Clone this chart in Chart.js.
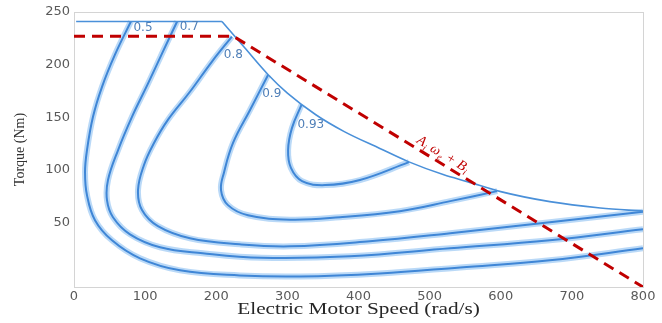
<!DOCTYPE html>
<html>
<head>
<meta charset="utf-8">
<script src="https://cdn.jsdelivr.net/npm/chart.js@4.4.1/dist/chart.umd.min.js"></script>
<style>
    html, body { margin: 0; padding: 0; background: #fff; }
    #wrap { width: 662px; height: 323px; }
</style>
</head>
<body>
<div id="wrap"><canvas id="grafico-eficiencia" width="662" height="323"></canvas></div>
<script>
// Axis ticks
const xTicks = [0, 100, 200, 300, 400, 500, 600, 700, 800];
const yTicks = [50, 100, 150, 200, 250];
const yMin = -11;
const xTitle = 'Electric Motor Speed (rad/s)';
const yTitle = 'Torque (Nm)';

// Maximum torque envelope
const envelopeFlat = [{x: 3, y: 241}, {x: 208, y: 241}];
const envelopeCurve = [
    {x: 208, y: 241}, {x: 240, y: 216}, {x: 273, y: 190.5}, {x: 300, y: 173}, {x: 340, y: 152.5},
    {x: 380, y: 136.5}, {x: 430, y: 120.5}, {x: 470, y: 108}, {x: 520, y: 95.5}, {x: 553, y: 89},
    {x: 600, y: 79.5}, {x: 669, y: 70}, {x: 740, y: 64}, {x: 800, y: 61}
];

// Efficiency contours
const eff50 = [
    {x: 80, y: 241}, {x: 57.6, y: 209.5}, {x: 39.4, y: 179}, {x: 26.7, y: 150.5}, {x: 18.3, y: 119},
    {x: 15.5, y: 98}, {x: 18.3, y: 76}, {x: 29.5, y: 52.4}, {x: 53.4, y: 33.3}, {x: 92.8, y: 16.2},
    {x: 149, y: 4.8}, {x: 233, y: 0}, {x: 318, y: -1}, {x: 430, y: 1.9}, {x: 543, y: 7.6},
    {x: 669, y: 14.3}, {x: 800, y: 25.7}
];
const eff70 = [
    {x: 145, y: 241}, {x: 125, y: 212.4}, {x: 104, y: 182}, {x: 81.5, y: 150.5}, {x: 62, y: 119},
    {x: 47.8, y: 90.5}, {x: 46.4, y: 71.4}, {x: 54.8, y: 55.2}, {x: 78.7, y: 39}, {x: 121, y: 26.7},
    {x: 181, y: 21}, {x: 264, y: 16.7}, {x: 388, y: 18.1}, {x: 529, y: 25.7}, {x: 669, y: 33.3},
    {x: 800, y: 43.8}
];
const eff80 = [
    {x: 222, y: 226.7}, {x: 194, y: 203}, {x: 163, y: 174.3}, {x: 132, y: 147.6}, {x: 112.5, y: 125.7},
    {x: 98.4, y: 104.8}, {x: 90, y: 81}, {x: 95.6, y: 62}, {x: 118, y: 46.7}, {x: 163, y: 35.2},
    {x: 233, y: 29.5}, {x: 304, y: 27.6}, {x: 416, y: 32.4}, {x: 529, y: 40}, {x: 669, y: 50.5},
    {x: 800, y: 60.5}
];
const eff90 = [
    {x: 273, y: 190.5}, {x: 247.5, y: 157}, {x: 223.6, y: 125.7}, {x: 211, y: 98}, {x: 206.7, y: 81},
    {x: 216.5, y: 66.7}, {x: 244.6, y: 57.1}, {x: 304, y: 52.9}, {x: 374, y: 55.2}, {x: 458, y: 61},
    {x: 529, y: 70.5}, {x: 595, y: 80}
];
const eff93 = [
    {x: 320, y: 162}, {x: 306.5, y: 140}, {x: 301, y: 119}, {x: 305, y: 102}, {x: 320.6, y: 89.5},
    {x: 353, y: 85.7}, {x: 402, y: 90.5}, {x: 471, y: 107.5}
];

// Operating line A_i w_e + B_i
const redLine = [{x: 0, y: 227}, {x: 224, y: 227}, {x: 800, y: -11}];

// Contour labels and where they sit (data units)
const effLabels = ['0.5', '0.7', '0.8', '0.9', '0.93'];
const effLabelAt = [[97, 235], [162, 236], [224, 209], [278, 172], [333, 143]];

function contour(data) {
    return [{
        data: data, showLine: true, pointRadius: 0, tension: 0.4,
        borderColor: 'rgba(130,185,240,0.55)', borderWidth: 6, order: 3
    }, {
        data: data, showLine: true, pointRadius: 0, tension: 0.4,
        borderColor: '#3f86d6', borderWidth: 2, order: 2
    }];
}

const moldura = {
    id: 'moldura',
    beforeDatasetsDraw(chart) {
        const {ctx, chartArea: a} = chart;
        ctx.save();
        ctx.strokeStyle = '#d4d4d4';
        ctx.lineWidth = 1;
        ctx.strokeRect(Math.round(a.left) + 0.5, Math.round(a.top) + 0.5,
            Math.round(a.right - a.left), Math.round(a.bottom - a.top));
        ctx.restore();
    }
};

const rotulos = {
    id: 'rotulos',
    afterDatasetsDraw(chart) {
        const {ctx, chartArea: a, scales: {x, y}} = chart;
        ctx.save();
        ctx.font = '12px "DejaVu Sans"';
        ctx.fillStyle = '#4f7fb8';
        ctx.textAlign = 'center';
        ctx.textBaseline = 'middle';
        effLabels.forEach((t, i) => {
            ctx.fillText(t, x.getPixelForValue(effLabelAt[i][0]), y.getPixelForValue(effLabelAt[i][1]));
        });

        // x axis title, stretched a little like the original
        ctx.save();
        ctx.translate((a.left + a.right) / 2, 310);
        ctx.scale(1.25, 1);
        ctx.font = '17px "Liberation Serif"';
        ctx.fillStyle = '#262626';
        ctx.fillText(xTitle, 0, 0);
        ctx.restore();

        // equation along the red line
        const x0 = x.getPixelForValue(redLine[1].x), y0 = y.getPixelForValue(redLine[1].y);
        const x1 = x.getPixelForValue(redLine[2].x), y1 = y.getPixelForValue(redLine[2].y);
        const ang = Math.atan2(y1 - y0, x1 - x0);
        ctx.translate(x.getPixelForValue(519), y.getPixelForValue(115));
        ctx.rotate(ang);
        ctx.fillStyle = '#c00000';
        ctx.textAlign = 'left';
        ctx.textBaseline = 'alphabetic';
        const big = 'italic 14px "Liberation Serif"', small = 'italic 9px "Liberation Serif"';
        const parts = [['A', big, 0], ['i', small, 3], [' \u03c9', big, 0], ['e', small, 3], [' + B', big, 0], ['i', small, 3]];
        let w = 0;
        parts.forEach(p => { ctx.font = p[1]; w += ctx.measureText(p[0]).width + 0.5; });
        let cx = -w / 2;
        parts.forEach(p => {
            ctx.font = p[1];
            ctx.fillText(p[0], cx, 4 + p[2]);
            cx += ctx.measureText(p[0]).width + 0.5;
        });
        ctx.restore();
    }
};

document.addEventListener('DOMContentLoaded', function() {
    const ctx = document.getElementById('grafico-eficiencia').getContext('2d');
    new Chart(ctx, {
        type: 'scatter',
        data: {
            datasets: [
                {data: redLine, showLine: true, pointRadius: 0, borderColor: '#c00000', borderWidth: 3, borderDash: [11, 7], order: 0},
                {data: envelopeFlat, showLine: true, pointRadius: 0, borderColor: '#4a90d9', borderWidth: 1.6, order: 1},
                {data: envelopeCurve, showLine: true, pointRadius: 0, borderColor: '#4a90d9', borderWidth: 1.6, cubicInterpolationMode: 'monotone', order: 1},
                ...contour(eff50),
                ...contour(eff70),
                ...contour(eff80),
                ...contour(eff90),
                ...contour(eff93)
            ]
        },
        options: {
            responsive: false,
            animation: false,
            layout: {padding: {top: 12, right: 19, left: 0, bottom: 0}},
            plugins: {legend: {display: false}, tooltip: {enabled: false}},
            scales: {
                x: {
                    type: 'linear', min: 0, max: 800,
                    afterFit: s => { s.height = 36; },
                    afterBuildTicks: s => { s.ticks = xTicks.map(v => ({value: v})); },
                    grid: {display: false, drawTicks: false},
                    border: {display: false},
                    ticks: {padding: 2, color: '#595959', font: {family: 'DejaVu Sans', size: 13}, maxRotation: 0}
                },
                y: {
                    type: 'linear', min: yMin, max: 250,
                    afterFit: s => { s.width = 74; },
                    afterBuildTicks: s => { s.ticks = yTicks.map(v => ({value: v})); },
                    grid: {display: false, drawTicks: false},
                    border: {display: false},
                    ticks: {padding: 4, color: '#595959', font: {family: 'DejaVu Sans', size: 13}},
                    title: {display: true, text: yTitle, color: '#333',
                        font: {family: 'Liberation Serif', size: 14}, padding: {top: 12, bottom: 0}}
                }
            }
        },
        plugins: [moldura, rotulos]
    });
});
</script>
</body>
</html>
